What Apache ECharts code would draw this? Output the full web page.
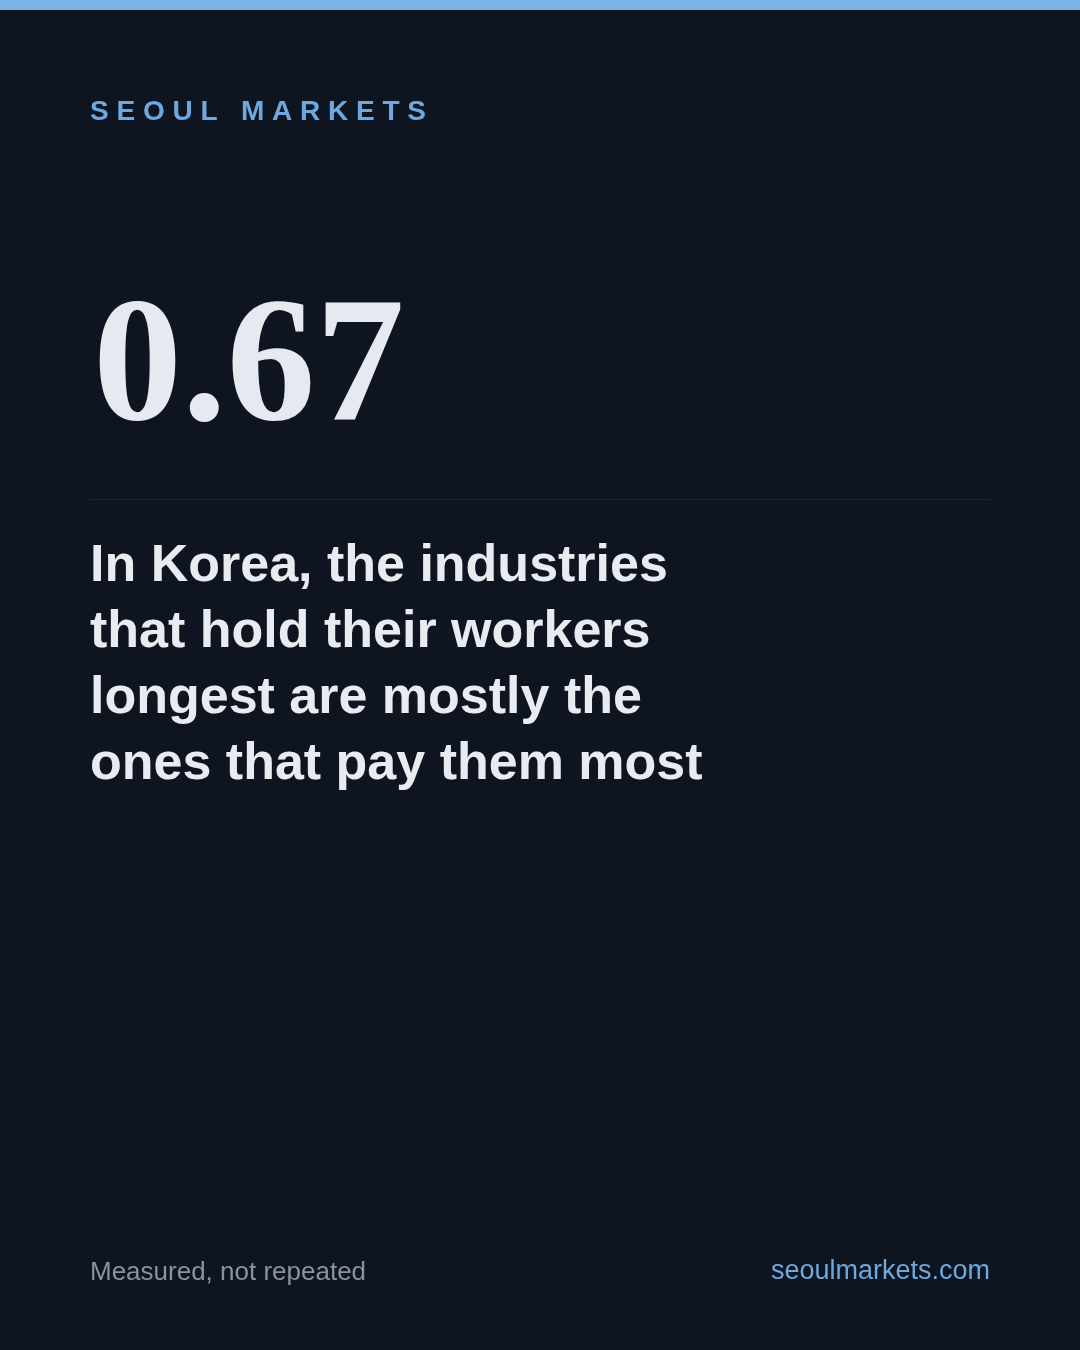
<!DOCTYPE html>
<html>
<head>
<meta charset="utf-8">
<script src="https://cdn.jsdelivr.net/npm/echarts@6/dist/echarts.min.js"></script>
<style>
html,body{margin:0;padding:0;background:#0e1420;}
#chart{width:1080px;height:1350px;}
</style>
</head>
<body>
<div id="chart"></div>
<script>
// ---- content ----
const brandName = ['SEOUL', 'MARKETS'];
const statValue = [0.67];
const headlineLines = [
  'In Korea, the industries',
  'that hold their workers',
  'longest are mostly the',
  'ones that pay them most'
];
const footerLeft = ['Measured, not repeated'];
const footerRight = ['seoulmarkets.com'];

// ---- helpers ----
function spaced(words) {
  return words.map(w => w.split('').join(' ')).join('   ');
}

const chart = echarts.init(document.getElementById('chart'), null, {renderer: 'canvas'});

const option = {
  backgroundColor: '#0e1420',
  animation: false,
  graphic: [
    { type: 'rect', left: 0, top: 0, shape: {width: 1080, height: 10}, style: {fill: '#7ab4e6'} },
    { type: 'text', left: 90, top: 97,
      style: { text: spaced(brandName), fill: '#6ea8e0', font: 'bold 28px "Liberation Sans", Arial, sans-serif',
               lineHeight: 30, verticalAlign: 'top' } },
    { type: 'text', left: 93, top: 283,
      style: { text: statValue[0].toFixed(2), fill: '#e6e9ef', font: 'bold 178px "Liberation Serif", "DejaVu Serif", serif',
               lineHeight: 180, verticalAlign: 'top' } },
    { type: 'rect', left: 90, top: 499, shape: {width: 900, height: 1}, style: {fill: '#1d2430'} },
    { type: 'text', left: 90, top: 534,
      style: { text: headlineLines.join('\n'), fill: '#e8ebf0', font: 'bold 52px "Liberation Sans", Arial, sans-serif',
               lineHeight: 66, verticalAlign: 'top' } },
    { type: 'text', left: 90, top: 1258,
      style: { text: footerLeft[0], fill: '#8b929d', font: '26px "Liberation Sans", Arial, sans-serif',
               lineHeight: 30, verticalAlign: 'top' } },
    { type: 'text', right: 90, top: 1257,
      style: { text: footerRight[0], fill: '#6ea8dc', font: '27px "Liberation Sans", Arial, sans-serif',
               lineHeight: 30, verticalAlign: 'top' } }
  ]
};
chart.setOption(option);
</script>
</body>
</html>
